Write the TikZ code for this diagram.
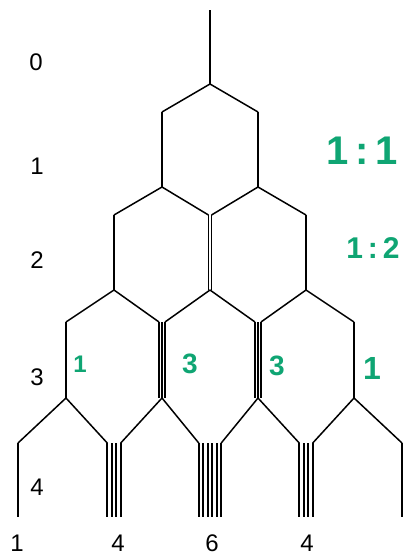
\documentclass[tikz,border=0pt]{standalone}
\usepackage{fontspec}
\setmainfont{Liberation Sans}
\usepackage{xcolor}
\definecolor{inkgreen}{RGB}{15,165,115}

\begin{document}
\begin{tikzpicture}[x=1pt,y=-1pt,line width=1.5pt,
    lvl/.style={font=\fontsize{24}{28}\selectfont},
    ink/.style={text=inkgreen,font=\bfseries\fontsize{#1}{#1}\selectfont}]
    \useasboundingbox (0,0) rectangle (405,555);
    % vertical strands: x / number of lines / spacing / top / bottom
    \foreach \x/\n/\s/\ya/\yb in {210/1/0/10/84, 162/1/0/112/187, 258/1/0/112/187,
        114/1/0/215/290, 210/2/3/215/290, 306/1/0/215/290,
        66/1/0/322/398, 162/3/3/322/398, 258/3/3/322/398, 354/1/0/322/398,
        18/1/0/443/517, 114/4/4.5/443/517, 210/6/4.5/443/517, 306/4/4.5/443/517, 402/1/0/443/517}
      \foreach \i in {1,...,\n}
        \draw[line width=1.6pt] ({\x+(\i-(\n+1)/2)*\s},\ya) -- ({\x+(\i-(\n+1)/2)*\s},\yb);
    % branchings
    \foreach \xa/\ya/\xb/\yb in {210/84/162/112, 210/84/258/112,
        162/187/114/215, 162/187/208.5/215, 258/187/211.5/215, 258/187/306/215,
        114/290/66/322, 114/290/159/322, 210/290/165/322, 210/290/255/322, 306/290/261/322, 306/290/354/322,
        66/398/18/443, 66/398/107.25/443, 162/398/120.75/443, 162/398/198.75/443,
        258/398/221.25/443, 258/398/299.25/443, 354/398/312.75/443, 354/398/402/443}
      \draw[line join=round] (\xa,\ya) -- (\xb,\yb);
    % generations
    \node[lvl] (g0) at (36,62) {0};
    \node[lvl] (g1) at (37,166) {1};
    \node[lvl] (g2) at (37,260) {2};
    \node[lvl] (g3) at (37,377) {3};
    \node[lvl] (g4) at (37,487) {4};
    % counts at the bottom
    \node[lvl] (c1) at (17,543) {1};
    \node[lvl] (c4a) at (118,543) {4};
    \node[lvl] (c6) at (212,543) {6};
    \node[lvl] (c4b) at (307,543) {4};
    % green notes
    \node[ink=40] (r1) at (362,151) {1\,:\,1};
    \node[ink=30] (r2) at (373,248) {1\,:\,2};
    \node[ink=24] (n1) at (80,364) {1};
    \node[ink=28] (n3a) at (190,364) {3};
    \node[ink=28] (n3b) at (277,366) {3};
    \node[ink=32] (n1b) at (372,368) {1};
\end{tikzpicture}
\end{document}
